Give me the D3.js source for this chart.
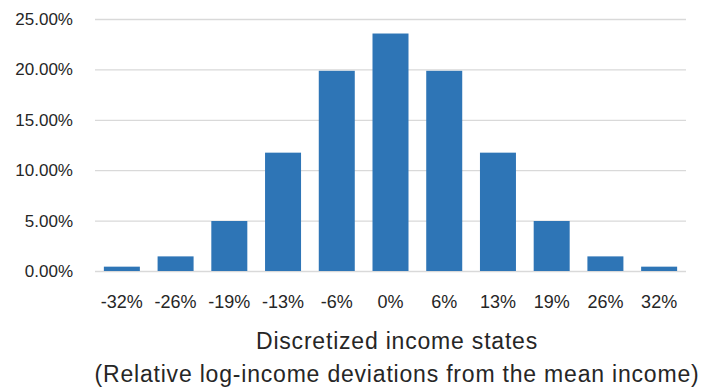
<!DOCTYPE html>
<html>
<head>
<meta charset="utf-8">
<script src="https://cdn.jsdelivr.net/npm/d3@7"></script>
<style>
  html, body { margin: 0; padding: 0; background: #fff; }
  svg { display: block; }
  text { font-family: "Liberation Sans", Arial, sans-serif; fill: #262626; }
</style>
</head>
<body>
<svg id="chart" width="704" height="392"></svg>
<script>
// Income states (relative log-income deviations) and their probabilities
const states = ["-32%", "-26%", "-19%", "-13%", "-6%", "0%", "6%", "13%", "19%", "26%", "32%"];
const probabilities = [0.0043, 0.0145, 0.0496, 0.1174, 0.1986, 0.2356, 0.1986, 0.1174, 0.0496, 0.0145, 0.0043];
const yTicks = [0, 0.05, 0.10, 0.15, 0.20, 0.25];
const titleLines = ["Discretized income states", "(Relative log-income deviations from the mean income)"];

const W = 704, H = 392;
const margin = { top: 19, right: 18, bottom: 121, left: 95 };
const innerW = W - margin.left - margin.right;
const innerH = H - margin.top - margin.bottom;

const svg = d3.select("#chart");
const g = svg.append("g").attr("transform", `translate(${margin.left},${margin.top})`);

const x = d3.scaleBand().domain(states).range([0, innerW]).paddingInner(0.33).paddingOuter(0.165);
const y = d3.scaleLinear().domain([0, 0.25]).range([innerH, 0]);

// horizontal gridlines with percentage labels
const yAxis = d3.axisLeft(y).tickValues(yTicks).tickFormat(d3.format(".2%")).tickSize(-innerW).tickPadding(22);
const yg = g.append("g").call(yAxis);
yg.select(".domain").remove();
yg.selectAll(".tick line").attr("stroke", "#d9d9d9").attr("stroke-width", 1.3);
yg.selectAll(".tick text").attr("font-size", 17).attr("fill", "#262626")
  .style("font-family", "'Liberation Sans', Arial, sans-serif");

// bars
g.selectAll("rect.bar")
  .data(states.map((s, i) => ({ s, v: probabilities[i] })))
  .join("rect")
  .attr("class", "bar")
  .attr("x", d => x(d.s))
  .attr("width", x.bandwidth())
  .attr("y", d => y(d.v))
  .attr("height", d => y(0) - y(d.v))
  .attr("fill", "#2E75B6");

// category axis
const xAxis = d3.axisBottom(x).tickSize(0).tickPadding(24);
const xg = g.append("g").attr("transform", `translate(0,${innerH})`).call(xAxis);
xg.select(".domain").remove();
xg.selectAll(".tick text").attr("font-size", 18).attr("fill", "#262626")
  .style("font-family", "'Liberation Sans', Arial, sans-serif");

// axis title, two lines
svg.append("g").selectAll("text")
  .data(titleLines)
  .join("text")
  .attr("x", 397)
  .attr("y", (d, i) => 349 + i * 33)
  .attr("text-anchor", "middle")
  .attr("font-size", 23)
  .attr("letter-spacing", 0.8)
  .attr("fill", "#1a1a1a")
  .text(d => d);
</script>
</body>
</html>
